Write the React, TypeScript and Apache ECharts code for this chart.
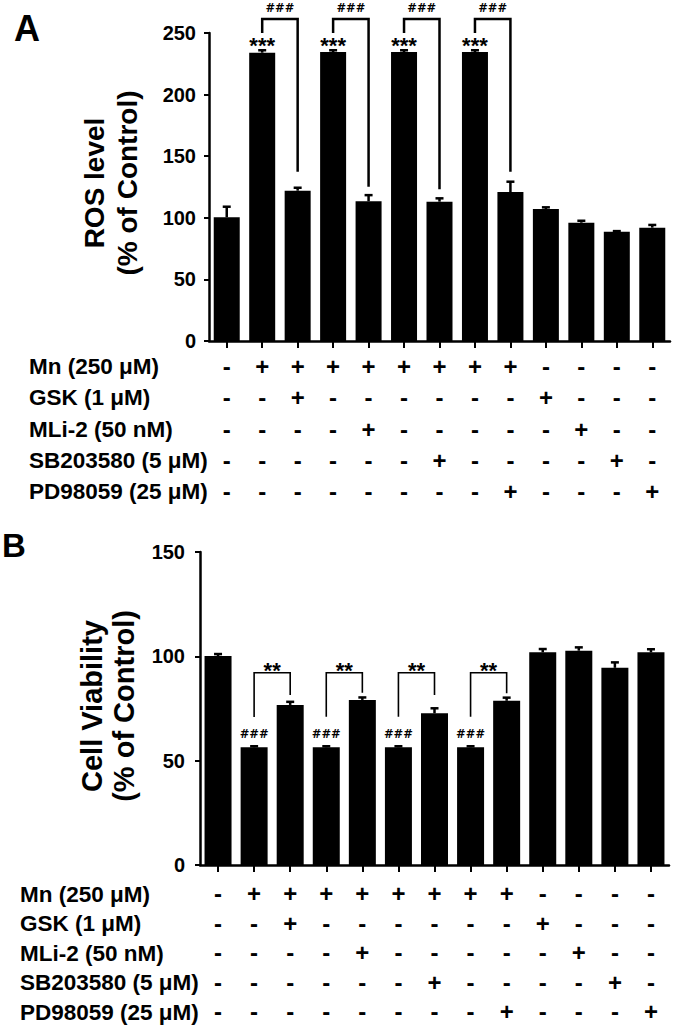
import React, { useEffect, useRef } from "react";
import * as echarts from "echarts";

// ---------- data ----------
const categories = ["1", "2", "3", "4", "5", "6", "7", "8", "9", "10", "11", "12", "13"];
const rowLabels = ["Mn (250 μM)", "GSK (1 μM)", "MLi-2 (50 nM)", "SB203580 (5 μM)", "PD98059 (25 μM)"];
const mnRow = ["-", "+", "+", "+", "+", "+", "+", "+", "+", "-", "-", "-", "-"];
const gskRow = ["-", "-", "+", "-", "-", "-", "-", "-", "-", "+", "-", "-", "-"];
const mliRow = ["-", "-", "-", "-", "+", "-", "-", "-", "-", "-", "+", "-", "-"];
const sbRow = ["-", "-", "-", "-", "-", "-", "+", "-", "-", "-", "-", "+", "-"];
const pdRow = ["-", "-", "-", "-", "-", "-", "-", "-", "+", "-", "-", "-", "+"];

const rosMean = [100.4, 234, 122, 234.5, 113.4, 234.5, 113.1, 234.5, 120.9, 107.1, 96, 88.7, 92];
const rosErr = [8.6, 2, 2.4, 1.5, 5, 1.5, 2.7, 1.5, 8.4, 1.4, 1.6, 0.5, 2.2];
const rosTicks = { min: 0, max: 250, interval: 50 };
// brackets: [from, to, top, leftEnd, rightEnd, labelY]
const rosBrackets = [
  [1, 2, 261.4, 250, 137.4, 270],
  [3, 4, 261.4, 250, 125.2, 270],
  [5, 6, 261.4, 250, 123.1, 270],
  [7, 8, 261.4, 250, 137.4, 270],
];
const rosBracketText = "###";
const rosStarX = [1, 3, 5, 7];
const rosStarY = [239.6, 239.6, 239.6, 239.6];
const rosStarText = "***";

const viaMean = [100.1, 56.4, 76.7, 56.4, 79.1, 56.4, 72.7, 56.4, 78.7, 101.9, 102.7, 94.5, 101.9];
const viaErr = [1, 0.5, 1.5, 0.5, 1.2, 0.5, 2.4, 0.5, 1.5, 1.6, 1.6, 2.6, 1.5];
const viaTicks = { min: 0, max: 150, interval: 50 };
const viaBrackets = [
  [1, 2, 92.1, 70.9, 81.5, 93.1],
  [3, 4, 92.1, 71, 82.6, 93.1],
  [5, 6, 92.1, 71, 81.5, 93.1],
  [7, 8, 92.1, 71, 82.3, 93.1],
];
const viaBracketText = "**";
const viaHashX = [1, 3, 5, 7];
const viaHashY = [62.6, 62.6, 62.6, 62.6];
const viaHashText = "###";

const FONT = "'Liberation Sans', Arial, Helvetica, sans-serif";

function treatmentLabel(i: number) {
  return [mnRow[i], gskRow[i], mliRow[i], sbRow[i], pdRow[i]].join("\n");
}

function errorSeries(mean: number[], err: number[], axisIndex: number) {
  return {
    type: "custom",
    xAxisIndex: axisIndex,
    yAxisIndex: axisIndex,
    clip: false,
    z: 5,
    data: mean.map((m, i) => [i, m, err[i]]),
    renderItem: (params: any, api: any) => {
      const x = api.value(0);
      const v = api.value(1);
      const e = api.value(2);
      const b = api.coord([x, v]);
      const t = api.coord([x, v + e]);
      return {
        type: "group",
        children: [
          { type: "line", shape: { x1: b[0], y1: b[1], x2: t[0], y2: t[1] }, style: { stroke: "#000", lineWidth: 2.5 } },
          { type: "line", shape: { x1: t[0] - 4, y1: t[1], x2: t[0] + 4, y2: t[1] }, style: { stroke: "#000", lineWidth: 2.5 } },
        ],
      };
    },
  };
}

function bracketSeries(br: number[][], label: string, axisIndex: number, lw: number, font: any) {
  return {
    type: "custom",
    xAxisIndex: axisIndex,
    yAxisIndex: axisIndex,
    clip: false,
    z: 6,
    data: br,
    encode: { x: [0, 1], y: [2, 3, 4] },
    renderItem: (params: any, api: any) => {
      const a = api.coord([api.value(0), api.value(3)]);
      const top = api.coord([api.value(0), api.value(2)]);
      const c = api.coord([api.value(1), api.value(4)]);
      const lab = api.coord([api.value(0), api.value(5)]);
      return {
        type: "group",
        children: [
          {
            type: "polyline",
            shape: { points: [[a[0], a[1]], [a[0], top[1]], [c[0], top[1]], [c[0], c[1]]] },
            style: { stroke: "#000", fill: "none", lineWidth: lw },
          },
          {
            type: "text",
            x: (a[0] + c[0]) / 2,
            y: lab[1],
            style: { text: label, fill: "#000", align: "center", verticalAlign: "middle", ...font },
          },
        ],
      };
    },
  };
}

function textSeries(xs: number[], ys: number[], label: string, axisIndex: number, font: any) {
  return {
    type: "custom",
    xAxisIndex: axisIndex,
    yAxisIndex: axisIndex,
    clip: false,
    z: 6,
    data: xs.map((x, i) => [x, ys[i]]),
    renderItem: (params: any, api: any) => {
      const p = api.coord([api.value(0), api.value(1)]);
      return {
        type: "text",
        x: p[0],
        y: p[1],
        style: { text: label, fill: "#000", align: "center", verticalAlign: "middle", ...font },
      };
    },
  };
}

const starFont = { fontFamily: FONT, fontSize: 22, fontWeight: "bold" };
const hashFont = { fontFamily: "'DejaVu Sans', sans-serif", fontSize: 11.5, fontWeight: "bold" };

function xAxisDef(gridIndex: number, lineHeight: number, margin: number) {
  return {
    type: "category",
    gridIndex,
    data: categories,
    axisLine: { show: true, lineStyle: { color: "#000", width: 2.5 } },
    axisTick: { show: true, alignWithLabel: true, length: 7, lineStyle: { color: "#000", width: 2 } },
    axisLabel: {
      interval: 0,
      margin,
      color: "#000",
      fontFamily: FONT,
      fontSize: 24,
      fontWeight: "bold",
      lineHeight,
      formatter: (_v: string, i: number) => treatmentLabel(i),
    },
    splitLine: { show: false },
  };
}

function yAxisDef(gridIndex: number, t: any, margin: number) {
  return {
    type: "value",
    gridIndex,
    min: t.min,
    max: t.max,
    interval: t.interval,
    axisLine: { show: true, lineStyle: { color: "#000", width: 2.5 } },
    axisTick: { show: true, length: 5, lineStyle: { color: "#000", width: 2 } },
    axisLabel: { color: "#000", fontFamily: FONT, fontSize: 20, fontWeight: "bold", margin },
    splitLine: { show: false },
  };
}

function rowLabelGraphics(left: number, top: number, step: number) {
  return rowLabels.map((t, i) => ({
    type: "text",
    x: left,
    y: top + i * step,
    style: { text: t, fill: "#000", fontFamily: FONT, fontSize: 22.5, fontWeight: "bold", align: "left", verticalAlign: "middle" },
  }));
}

export default function App() {
  const ref = useRef<HTMLDivElement>(null);
  useEffect(() => {
    if (!ref.current) return;
    const chart = echarts.init(ref.current, undefined, { renderer: "svg" });
    chart.setOption({
      animation: false,
      backgroundColor: "#fff",
      grid: [
        { left: 209, top: 33, width: 461, height: 308, containLabel: false, outerBoundsMode: "none" },
        { left: 200, top: 552, width: 469, height: 313, containLabel: false, outerBoundsMode: "none" },
      ],
      xAxis: [xAxisDef(0, 31.3, 10), xAxisDef(1, 29.5, 14)],
      yAxis: [yAxisDef(0, rosTicks, 13), yAxisDef(1, viaTicks, 15)],
      series: [
        { type: "bar", xAxisIndex: 0, yAxisIndex: 0, data: rosMean, barWidth: 26, itemStyle: { color: "#000" }, z: 3 },
        { type: "bar", xAxisIndex: 1, yAxisIndex: 1, data: viaMean, barWidth: 27, itemStyle: { color: "#000" }, z: 3 },
        errorSeries(rosMean, rosErr, 0),
        errorSeries(viaMean, viaErr, 1),
        bracketSeries(rosBrackets, rosBracketText, 0, 2.5, hashFont),
        bracketSeries(viaBrackets, viaBracketText, 1, 1.6, starFont),
        textSeries(rosStarX, rosStarY, rosStarText, 0, starFont),
        textSeries(viaHashX, viaHashY, viaHashText, 1, hashFont),
      ],
      graphic: [
        { type: "text", x: 27, y: 28, style: { text: "A", fill: "#000", fontFamily: FONT, fontSize: 36, fontWeight: "bold", align: "center", verticalAlign: "middle" } },
        { type: "text", x: 14, y: 545, style: { text: "B", fill: "#000", fontFamily: FONT, fontSize: 33, fontWeight: "bold", align: "center", verticalAlign: "middle" } },
        {
          type: "text",
          x: 111,
          y: 183,
          rotation: Math.PI / 2,
          style: { text: "ROS level\n(% of Control)", fill: "#000", fontFamily: FONT, fontSize: 28, fontWeight: "bold", lineHeight: 33, align: "center", verticalAlign: "middle" },
        },
        {
          type: "text",
          x: 108,
          y: 706,
          rotation: Math.PI / 2,
          style: { text: "Cell Viability\n(% of Control)", fill: "#000", fontFamily: FONT, fontSize: 29, fontWeight: "bold", lineHeight: 32, align: "center", verticalAlign: "middle" },
        },
        ...rowLabelGraphics(29, 366.5, 31.3),
        ...rowLabelGraphics(20, 894, 29.5),
      ],
    });
    return () => chart.dispose();
  }, []);
  return <div ref={ref} style={{ position: "absolute", left: 0, top: 0, width: 675, height: 1030 }} />;
}
